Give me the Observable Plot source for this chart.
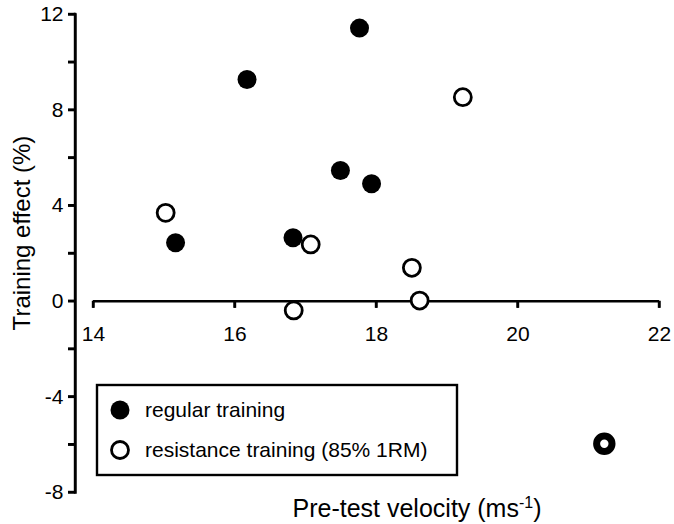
<!DOCTYPE html>
<html>
<head>
<meta charset="utf-8">
<script src="https://cdn.jsdelivr.net/npm/d3@7"></script>
<script src="https://cdn.jsdelivr.net/npm/@observablehq/plot@0.6"></script>
<style>
  html, body { margin: 0; padding: 0; background: #fff; }
  #chart { width: 674px; height: 524px; }
</style>
</head>
<body>
<div id="chart"></div>
<script>
// Data
const regularX = [16.17, 17.76, 17.49, 17.93, 15.16, 16.82];
const regularY = [9.28, 11.43, 5.47, 4.92, 2.45, 2.66];
const resistanceX = [19.22, 15.02, 17.07, 18.50, 18.61, 16.83, 21.22];
const resistanceY = [8.54, 3.70, 2.38, 1.40, 0.03, -0.38, -5.96];
const xTicks = [14, 16, 18, 20, 22];
const yTicks = [12, 10, 8, 6, 4, 2, 0, -2, -4, -6, -8];
const yLabelTicks = [12, 8, 4, 0, -4, -8];
const xExtent = [14, 22];
const yExtent = [-8, 12];
const seriesNames = ["regular training", "resistance training (85% 1RM)"];
const xLabel = "Pre-test velocity (ms";
const xLabelSup = "-1";
const yLabel = "Training effect (%)";

const regular = regularX.map((x, i) => ({x, y: regularY[i]}));
const resistance = resistanceX.map((x, i) => ({x, y: resistanceY[i]}));
const lastRes = resistance.length - 1;
const resistanceMain = resistance.slice(0, lastRes);
const resistanceBold = resistance.slice(lastRes);

const font = "Liberation Sans, Arial, sans-serif";
const lw = 2.4;
const mLeft = 75, tickLen = 7;

const plot = Plot.plot({
  width: 674,
  height: 524,
  marginLeft: mLeft,
  marginRight: 15,
  marginTop: 14,
  marginBottom: 32,
  style: {fontFamily: font},
  x: {domain: xExtent, insetLeft: 18, axis: null},
  y: {domain: yExtent, axis: null},
  marks: [
    Plot.frame({anchor: "left", stroke: "black", strokeWidth: lw}),
    Plot.axisY(yTicks, {
      anchor: "left", tickSize: tickLen, tickPadding: 5, fontSize: 21,
      tickFormat: d => yLabelTicks.includes(d) ? String(d) : "",
      stroke: "black", strokeWidth: lw, label: null
    }),
    // x axis at y = 0
    Plot.ruleY([0], {x1: xExtent[0], x2: xExtent[1], stroke: "black", strokeWidth: lw}),
    Plot.ruleX(xTicks, {x: d => d, y1: 0, y2: 0, insetBottom: -tickLen, stroke: "black", strokeWidth: lw}),
    Plot.text(xTicks, {x: d => d, y: 0, dy: 33, text: d => String(d), fontSize: 21, fill: "black"}),
    // points
    Plot.dot(regular, {x: "x", y: "y", r: 9.5, fill: "black", stroke: "none"}),
    Plot.dot(resistanceMain, {x: "x", y: "y", r: 8.5, fill: "white", stroke: "black", strokeWidth: 2.8}),
    Plot.dot(resistanceBold, {x: "x", y: "y", r: 7.7, fill: "white", stroke: "black", strokeWidth: 7})
  ]
});

document.getElementById("chart").appendChild(plot);

const svg = d3.select(plot);
const yScale = plot.scale("y");
const xScale = plot.scale("x");

// y axis line and ticks, positioned through Plot's y scale
const ya = svg.append("g").attr("stroke", "black").attr("stroke-width", lw).attr("fill", "none");
ya.append("line")
  .attr("x1", mLeft).attr("x2", mLeft)
  .attr("y1", yScale.apply(yExtent[1]) - lw / 2).attr("y2", yScale.apply(yExtent[0]) + lw / 2);
ya.selectAll(".yt").data(yTicks).join("line")
  .attr("x1", mLeft - tickLen).attr("x2", mLeft)
  .attr("y1", d => yScale.apply(d)).attr("y2", d => yScale.apply(d));
// x axis ticks through Plot's x scale
ya.selectAll(".xt").data(xTicks).join("line")
  .attr("x1", d => xScale.apply(d)).attr("x2", d => xScale.apply(d))
  .attr("y1", yScale.apply(0)).attr("y2", yScale.apply(0) + tickLen);

// Axis titles
svg.append("text")
  .attr("transform", "translate(30,233) rotate(-90)")
  .attr("text-anchor", "middle")
  .attr("font-family", font)
  .attr("font-size", 24)
  .attr("fill", "black")
  .text(yLabel);

const xt = svg.append("text")
  .attr("x", 417).attr("y", 517)
  .attr("text-anchor", "middle")
  .attr("font-family", font)
  .attr("font-size", 25)
  .attr("fill", "black");
xt.append("tspan").text(xLabel);
xt.append("tspan").attr("dy", -9).attr("font-size", 16).text(xLabelSup);
xt.append("tspan").attr("dy", 9).text(")");

// Legend
const lg = svg.append("g").attr("font-family", font).attr("font-size", 21).attr("text-anchor", "start");
lg.append("rect")
  .attr("x", 97).attr("y", 385).attr("width", 360).attr("height", 90)
  .attr("fill", "white").attr("stroke", "black").attr("stroke-width", lw);
lg.append("circle").attr("cx", 120).attr("cy", 410).attr("r", 9.5).attr("fill", "black");
lg.append("circle").attr("cx", 120).attr("cy", 450).attr("r", 8.5)
  .attr("fill", "white").attr("stroke", "black").attr("stroke-width", 2.8);
lg.append("text").attr("x", 145).attr("y", 417).attr("fill", "black").text(seriesNames[0]);
lg.append("text").attr("x", 145).attr("y", 457).attr("fill", "black").text(seriesNames[1]);
</script>
</body>
</html>
